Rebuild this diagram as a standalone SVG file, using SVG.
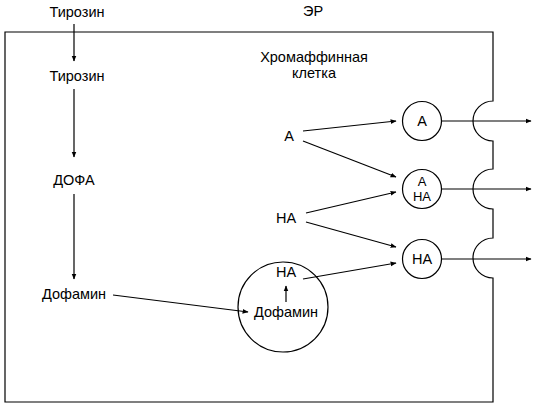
<svg xmlns="http://www.w3.org/2000/svg" width="534" height="409" viewBox="0 0 534 409">
<defs>
<marker id="ah" viewBox="0 0 10 10" refX="9" refY="5" markerWidth="6" markerHeight="6" markerUnits="userSpaceOnUse" orient="auto">
<path d="M0,1 L10,5 L0,9 Z" fill="#000"/>
</marker>
</defs>
<style>
text{font-family:"Liberation Sans",Arial,sans-serif;font-size:14.5px;fill:#000;text-anchor:middle}
.sm{font-size:13px}
.ln{stroke:#000;stroke-width:1.2;fill:none}
.ar{stroke:#000;stroke-width:1.2;fill:none;marker-end:url(#ah)}
</style>
<rect width="534" height="409" fill="#fff"/>
<g id="cell">
<path class="ln" d="M5,32 H493 V101 A20,20 0 0 0 493,141 V169 A20,20 0 0 0 493,209 V238 A20,20 0 0 0 493,278 V402 H5 Z"/>
</g>
<g id="er"><text x="313" y="16">ЭР</text></g>
<g id="label"><text x="314" y="62">Хромаффинная</text><text x="314" y="78">клетка</text></g>
<g id="tyr0"><text x="77" y="17">Тирозин</text></g>
<g id="tyr1"><text x="77" y="81">Тирозин</text></g>
<g id="dopa"><text x="74" y="185">ДОФА</text></g>
<g id="dopamine"><text x="74" y="299">Дофамин</text></g>
<g id="a"><text x="289" y="141">А</text></g>
<g id="na"><text x="286" y="223">НА</text></g>
<g id="vesicle">
<circle class="ln" cx="283" cy="307" r="45"/>
<text x="286" y="277">НА</text>
<text x="286" y="317">Дофамин</text>
</g>
<g id="granA"><circle class="ln" cx="422" cy="121" r="19.5"/><text x="422" y="126">А</text></g>
<g id="granANA"><circle class="ln" cx="422" cy="189" r="19.5"/><text class="sm" x="422" y="186">А</text><text class="sm" x="422" y="201">НА</text></g>
<g id="granNA"><circle class="ln" cx="422" cy="259" r="19.5"/><text x="422" y="264">НА</text></g>
<g id="connectors">
<line class="ar" x1="74" y1="24" x2="74" y2="61"/>
<line class="ar" x1="74" y1="89" x2="74" y2="157"/>
<line class="ar" x1="74" y1="194" x2="74" y2="279"/>
<line class="ar" x1="113" y1="295" x2="248" y2="312"/>
<line class="ar" x1="286" y1="302" x2="286" y2="286"/>
<line class="ar" x1="303" y1="131" x2="396" y2="121"/>
<line class="ar" x1="303" y1="141" x2="396" y2="177"/>
<line class="ar" x1="306" y1="213" x2="396" y2="192"/>
<line class="ar" x1="306" y1="222" x2="396" y2="247"/>
<line class="ar" x1="303" y1="279" x2="396" y2="263"/>
<line class="ar" x1="441.5" y1="121" x2="531" y2="121"/>
<line class="ar" x1="441.5" y1="189" x2="531" y2="189"/>
<line class="ar" x1="441.5" y1="259" x2="531" y2="259"/>
</g>
</svg>
